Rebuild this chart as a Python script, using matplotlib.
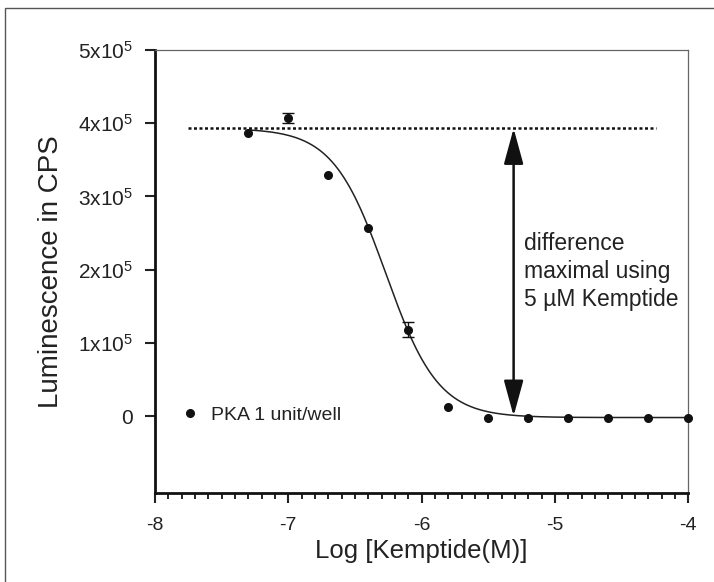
import numpy as np
import matplotlib.pyplot as plt
from matplotlib.patches import Rectangle

plt.rcParams['font.family'] = ['Liberation Sans', 'DejaVu Sans']
plt.rcParams['mathtext.fontset'] = 'custom'
plt.rcParams['mathtext.rm'] = 'Liberation Sans'
plt.rcParams['axes.unicode_minus'] = False

# data
log_conc = [-7.3, -7.0, -6.7, -6.4, -6.1, -5.8, -5.5, -5.2, -4.9, -4.6, -4.3, -4.0]
lum = [3.87e5, 4.07e5, 3.30e5, 2.57e5, 1.18e5, 0.13e5, -0.02e5, -0.02e5,
       -0.02e5, -0.02e5, -0.02e5, -0.02e5]
err = [0, 0.07e5, 0, 0, 0.10e5, 0, 0, 0, 0, 0, 0, 0]

# fitted 4PL curve parameters
fit_top = 3.93e5
fit_bottom = -0.02e5
fit_logic50 = -6.27
fit_hill = 2.2

max_level = 3.93e5
arrow_x = -5.31

ytick_vals = [0, 1e5, 2e5, 3e5, 4e5, 5e5]
ytick_labels = ['0', r'$\mathrm{1x10^5}$', r'$\mathrm{2x10^5}$', r'$\mathrm{3x10^5}$',
                r'$\mathrm{4x10^5}$', r'$\mathrm{5x10^5}$']
xtick_vals = [-8, -7, -6, -5, -4]

fig = plt.figure(figsize=(7.14, 5.82), dpi=100)
ax = fig.add_axes([0.217, 0.153, 0.747, 0.761])

# outer frame (runs off the right and bottom edge)
fig.patches.append(Rectangle((0.007, -0.05), 1.1, 1.036, transform=fig.transFigure,
                             fill=False, edgecolor='#555555', linewidth=1.0))

xs = np.linspace(-7.3, -4.0, 300)
curve = fit_bottom + (fit_top - fit_bottom) / (1 + 10 ** ((xs - fit_logic50) * fit_hill))
ax.plot(xs, curve, color='#222222', linewidth=1.1)

ax.plot(log_conc, lum, 'o', color='#111111', markersize=5.5, label='PKA 1 unit/well',
        clip_on=False, zorder=3)
ex = [x for x, e in zip(log_conc, err) if e > 0]
ey = [y for y, e in zip(lum, err) if e > 0]
ee = [e for e in err if e > 0]
ax.errorbar(ex, ey, yerr=ee, fmt='none', ecolor='#111111', capsize=4,
            elinewidth=1.0, capthick=1.0, zorder=3)

ax.plot([-7.75, -4.24], [max_level, max_level], linestyle=(0, (1.2, 1.0)),
        color='#111111', linewidth=1.8)
ax.annotate('', xy=(arrow_x, max_level), xytext=(arrow_x, 0),
            arrowprops=dict(arrowstyle='<|-|>,head_length=1.1,head_width=0.3',
                            color='#111111', lw=1.8, mutation_scale=20,
                            shrinkA=0, shrinkB=0))
ax.text(-5.23, 2.52e5, 'difference\nmaximal using\n5 \u00b5M Kemptide', fontsize=16.5,
        color='#222222', va='top', ha='left', linespacing=1.3)

leg = ax.legend(loc='center left', bbox_to_anchor=(0.008, 0.175), frameon=False,
                fontsize=14, handletextpad=0.45, handlelength=1.2, borderaxespad=0.6)
for t in leg.get_texts():
    t.set_color('#222222')

ax.set_xlim(-8, -4)
ax.set_ylim(-1.05e5, 5e5)
ax.set_xticks(xtick_vals)
ax.set_xticks(np.arange(-8, -3.99, 0.1), minor=True)
ax.set_yticks(ytick_vals)
ax.set_yticklabels(ytick_labels)
ax.tick_params(axis='both', labelsize=14, colors='#222222', direction='out', width=1.5)
ax.tick_params(axis='y', labelsize=15)
ax.tick_params(axis='x', which='major', length=7, pad=10)
ax.tick_params(axis='x', which='minor', length=4, width=1.2)
ax.tick_params(axis='y', length=7, pad=9)

for s in ['left', 'bottom']:
    ax.spines[s].set_linewidth(2.0)
    ax.spines[s].set_color('#111111')
for s in ['top', 'right']:
    ax.spines[s].set_linewidth(0.9)
    ax.spines[s].set_color('#666666')

ax.set_xlabel('Log [Kemptide(M)]', fontsize=18.5, color='#222222', labelpad=4)
ax.set_ylabel('Luminescence in CPS', fontsize=20, color='#222222', labelpad=10)

fig.savefig('out.png', dpi=100)
